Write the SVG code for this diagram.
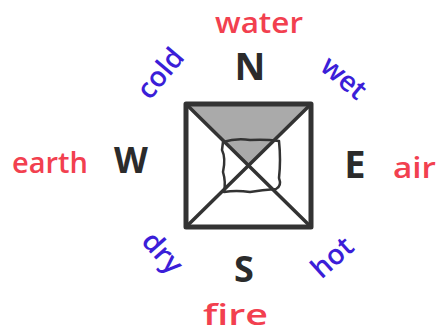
<svg xmlns="http://www.w3.org/2000/svg" width="436" height="333" viewBox="0 0 436 333">
<style>
.el{font-family:"Open Sans","Liberation Sans",sans-serif;font-weight:600;font-size:28px;fill:#f2404f}
.q{font-family:"Open Sans","Liberation Sans",sans-serif;font-weight:600;font-size:28px;fill:#3b1ed8}
.d{font-family:"Open Sans","Liberation Sans",sans-serif;font-weight:bold;fill:#2b2b2b;text-anchor:middle}
.ln{stroke:#333;fill:none;stroke-linecap:round;stroke-linejoin:round}
</style>
<rect width="436" height="333" fill="#fff"/>
<g id="square">
<polygon points="187,104 310,104 248,165" fill="#aaa"/>
<path class="ln" stroke-width="2.5" d="M223,142 Q236,138 250,140 Q265,139 279,141 Q281,160 279,178 Q282,186 276,189 Q262,190 250,192 Q236,190 224,192 Q226,182 223,172 Q226,158 222,150 Z"/>
<line class="ln" stroke-width="3.5" x1="188" y1="106" x2="309" y2="225"/>
<line class="ln" stroke-width="3.5" x1="309" y1="106" x2="188" y2="225"/>
<rect class="ln" stroke-width="5" x="186" y="104" width="125" height="123"/>
</g>
<g id="directions">
<text class="d" x="250" y="80" font-size="38">N</text>
<text class="d" x="131" y="173" font-size="35">W</text>
<text class="d" x="355" y="178" font-size="38">E</text>
<text class="d" x="244" y="282" font-size="36">S</text>
</g>
<g id="elements">
<text class="el" x="215" y="33" textLength="88" lengthAdjust="spacingAndGlyphs">water</text>
<text class="el" x="12" y="173" textLength="76" lengthAdjust="spacingAndGlyphs">earth</text>
<text class="el" x="393" y="178" textLength="43" lengthAdjust="spacingAndGlyphs">air</text>
<text class="el" x="203" y="325" font-size="27" textLength="65" lengthAdjust="spacingAndGlyphs">fire</text>
</g>
<g id="qualities">
<text class="q" transform="translate(160,73) rotate(-50)" x="-28" y="10" textLength="56" lengthAdjust="spacingAndGlyphs">cold</text>
<text class="q" transform="translate(343,79) rotate(40)" x="-25" y="8" textLength="50" lengthAdjust="spacingAndGlyphs">wet</text>
<text class="q" transform="translate(332,257) rotate(-42)" x="-23" y="10" textLength="46" lengthAdjust="spacingAndGlyphs">hot</text>
<text class="q" transform="translate(160,255) rotate(48)" x="-23" y="6" textLength="46" lengthAdjust="spacingAndGlyphs">dry</text>
</g>
</svg>
